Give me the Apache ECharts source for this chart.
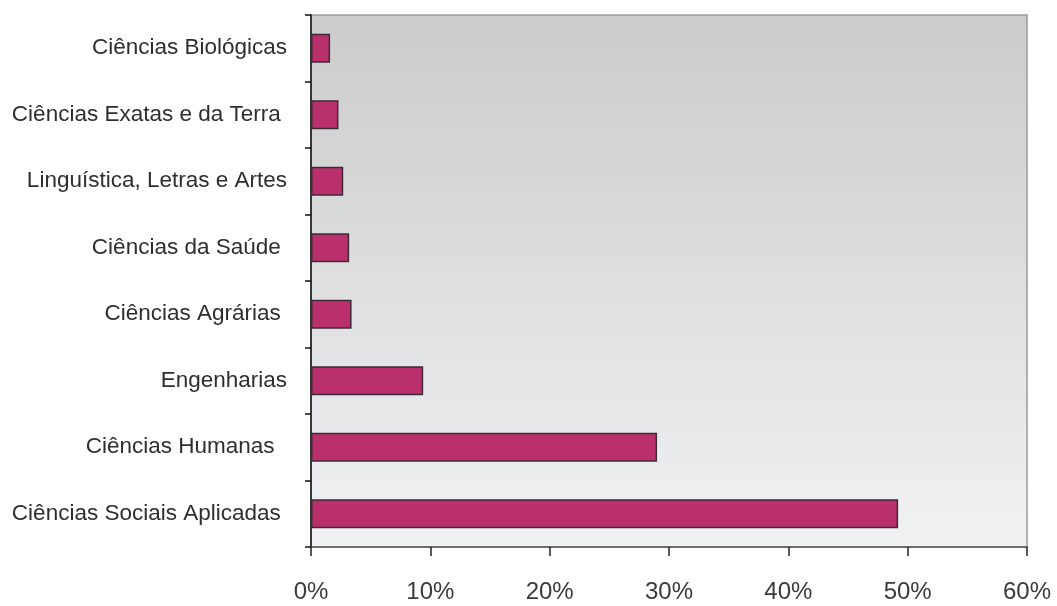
<!DOCTYPE html>
<html>
<head>
<meta charset="utf-8">
<style>
  html, body { margin: 0; padding: 0; background: #ffffff; }
  #chart { width: 1057px; height: 606px; }
</style>
<script src="https://cdn.jsdelivr.net/npm/echarts@6/dist/echarts.min.js"></script>
</head>
<body>
<div id="chart"></div>
<script>
// Areas of knowledge, listed top to bottom (trailing spaces kept as in the source sheet)
const categories = [
  'Ciências Biológicas',
  'Ciências Exatas e da Terra ',
  'Linguística, Letras e Artes',
  'Ciências da Saúde ',
  'Ciências Agrárias ',
  'Engenharias',
  'Ciências Humanas  ',
  'Ciências Sociais Aplicadas '
];
// Share of the total, in percent
const shares = [1.6, 2.3, 2.7, 3.2, 3.4, 9.4, 29.0, 49.2];
// Percentage axis
const axisMin = 0;
const axisMax = 60;
const axisStep = 10;

const chart = echarts.init(document.getElementById('chart'), null, { renderer: 'canvas' });

chart.setOption({
  animation: false,
  grid: {
    left: 311,
    top: 15,
    right: 30,
    bottom: 59,
    show: true,
    borderColor: '#9a9a9a',
    borderWidth: 1.5,
    backgroundColor: new echarts.graphic.LinearGradient(0, 0, 0, 1, [
      { offset: 0, color: '#cbcbcb' },
      { offset: 1, color: '#f1f2f4' }
    ])
  },
  xAxis: {
    type: 'value',
    min: axisMin,
    max: axisMax,
    interval: axisStep,
    axisLine: { show: true, lineStyle: { color: '#555555', width: 1.5 } },
    axisTick: { show: true, length: 9, lineStyle: { color: '#222222', width: 1.5 } },
    splitLine: { show: false },
    axisLabel: {
      formatter: '{value}%',
      margin: 33,
      fontFamily: 'Liberation Sans, Arial, sans-serif',
      fontSize: 24,
      color: '#3a3a3a'
    }
  },
  yAxis: {
    type: 'category',
    inverse: true,
    data: categories,
    boundaryGap: true,
    axisLine: { show: true, lineStyle: { color: '#111111', width: 1.5 } },
    axisTick: { show: true, length: 6, alignWithLabel: false, lineStyle: { color: '#111111', width: 1.5 } },
    splitLine: { show: false },
    axisLabel: {
      margin: 24,
      fontFamily: 'Liberation Sans, Arial, sans-serif',
      fontSize: 22.5,
      color: '#2e2e2e'
    }
  },
  series: [{
    type: 'bar',
    data: shares,
    barWidth: 29,
    itemStyle: {
      color: '#ba306d',
      borderColor: '#3e2a36',
      borderWidth: 1.5
    }
  }]
});
</script>
</body>
</html>
